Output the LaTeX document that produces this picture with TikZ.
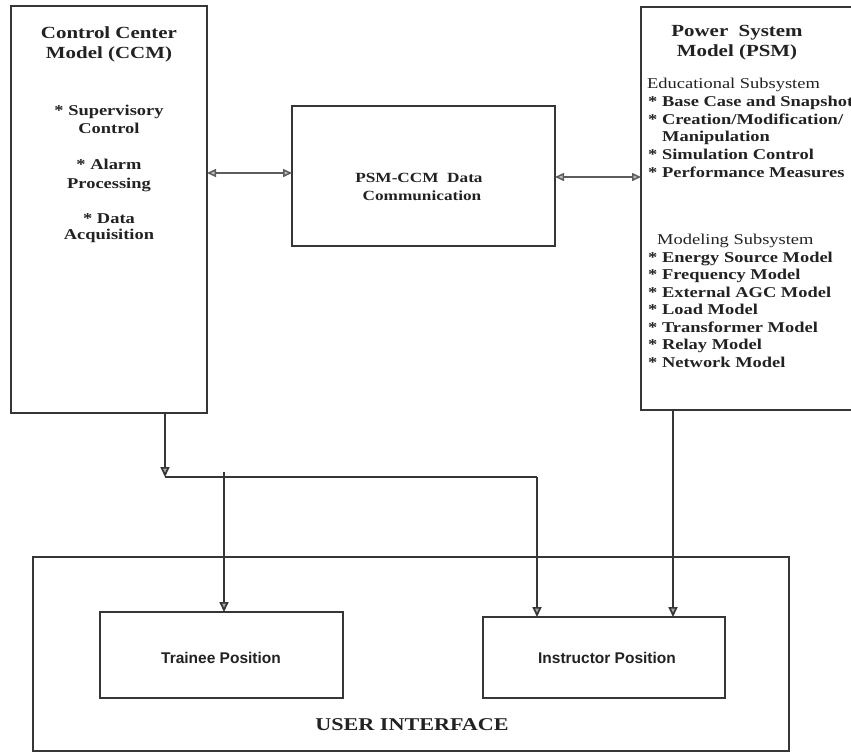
\documentclass[tikz,border=0pt]{standalone}
\usepackage{fontspec}
\setmainfont{Liberation Serif}[FakeStretch=1.23]
\newfontfamily\possans{Liberation Sans}
\usetikzlibrary{arrows.meta}
\definecolor{ink}{HTML}{222222}
\definecolor{lineink}{HTML}{363636}
\definecolor{thinink}{HTML}{5C5C5C}
\tikzset{
  box/.style={draw=lineink, line width=1.8pt, inner sep=0pt, outer sep=0pt, fill=none},
  ttl/.style={text=ink, inner sep=0pt, anchor=base, font=\bfseries\fontsize{17}{20}\selectfont},
  ctr/.style={text=ink, inner sep=0pt, anchor=base, font=\bfseries\fontsize{15}{18}\selectfont},
  itm/.style={text=ink, inner sep=0pt, anchor=base west, font=\bfseries\fontsize{15}{18}\selectfont},
  sub/.style={text=ink, inner sep=0pt, anchor=base west, font=\fontsize{15}{18}\selectfont},
  postext/.style={text=ink, inner sep=0pt, anchor=base, font=\possans\bfseries\fontsize{15.5}{18}\selectfont},
  tipp/.style={-{Triangle[length=10pt,width=9pt,fill=gray!70]}},
  arr/.style={draw=lineink, line width=1.7pt, tipp},
  plain/.style={draw=lineink, line width=1.7pt},
  dbl/.style={draw=thinink, line width=1.5pt, {Triangle[length=9pt,width=8pt,fill=gray!50]}-{Triangle[length=9pt,width=8pt,fill=gray!50]}},
}
\begin{document}
\begin{tikzpicture}[x=1pt,y=-1pt]
\useasboundingbox[fill=white] (0,0) rectangle (851,753);

% boxes
\node[box, minimum width=196pt, minimum height=407pt] (ccm) at (109,209.5) {};
\node[box, minimum width=230pt, minimum height=403pt] (psm) at (756,208.5) {};
\node[box, minimum width=263pt, minimum height=140pt] (dc) at (423.5,176) {};
\node[box, minimum width=756pt, minimum height=194pt] (ui) at (411,654) {};
\node[box, minimum width=243pt, minimum height=86pt] (tr) at (221.5,655) {};
\node[box, minimum width=242pt, minimum height=81pt] (ins) at (604,657.5) {};

% CCM text
\node[ttl] (ccmt1) at (109,38.7) {Control Center};
\node[ttl] (ccmt2) at (109,58.7) {Model (CCM)};
\node[ctr] (c1) at (109,115) {* Supervisory};
\node[ctr] (c2) at (109,133) {Control};
\node[ctr] (c3) at (109,169) {* Alarm};
\node[ctr] (c4) at (109,188) {Processing};
\node[ctr] (c5) at (109,223) {* Data};
\node[ctr] (c6) at (109,239) {Acquisition};

% PSM text
\node[ttl] (psmt1) at (737,36) {Power~~System};
\node[ttl] (psmt2) at (737,56) {Model (PSM)};
\node[sub] (e0) at (647,88) {Educational Subsystem};
\node[itm] (e1) at (648,106) {* Base Case and Snapshot};
\node[itm] (e2) at (648,124) {* Creation/Modification/};
\node[itm] (e3) at (662,141) {Manipulation};
\node[itm] (e4) at (648,159) {* Simulation Control};
\node[itm] (e5) at (648,177) {* Performance Measures};
\node[sub] (m0) at (657,244) {Modeling Subsystem};
\node[itm] (m1) at (648,262) {* Energy Source Model};
\node[itm] (m2) at (648,279) {* Frequency Model};
\node[itm] (m3) at (648,297) {* External AGC Model};
\node[itm] (m4) at (648,314) {* Load Model};
\node[itm] (m5) at (648,332) {* Transformer Model};
\node[itm] (m6) at (648,349) {* Relay Model};
\node[itm] (m7) at (648,367) {* Network Model};

% data communication text
\node[ctr, font=\bfseries\fontsize{14}{18}\selectfont] (dct1) at (419,182) {PSM-CCM~ Data};
\node[ctr, font=\bfseries\fontsize{14}{18}\selectfont] (dct2) at (422,200) {Communication};

% positions
\node[postext] (trt) at (221,663) {Trainee Position};
\node[postext] (inst) at (607,663) {Instructor Position};
\node[ttl, font=\bfseries\fontsize{18}{20}\selectfont] (uit) at (412,730) {USER INTERFACE};

% connectors
\coordinate (ya) at (0,173);
\coordinate (yb) at (0,177);
\draw[dbl] (ccm.east |- ya) -- (dc.west |- ya);
\draw[dbl] (dc.east |- yb) -- (psm.west |- yb);

\coordinate (j1) at (165,477);
\coordinate (j2) at (537,477);
\coordinate (j3) at (224,472);
\coordinate (p1) at (673,0);
\draw[arr] (ccm.south -| j1) -- (j1);
\draw[plain] (j1) -- (j2);
\draw[arr] (j2) -- (ins.north -| j2);
\draw[arr] (j3) -- (tr.north -| j3);
\draw[arr] (psm.south -| p1) -- (ins.north -| p1);
\end{tikzpicture}
\end{document}
